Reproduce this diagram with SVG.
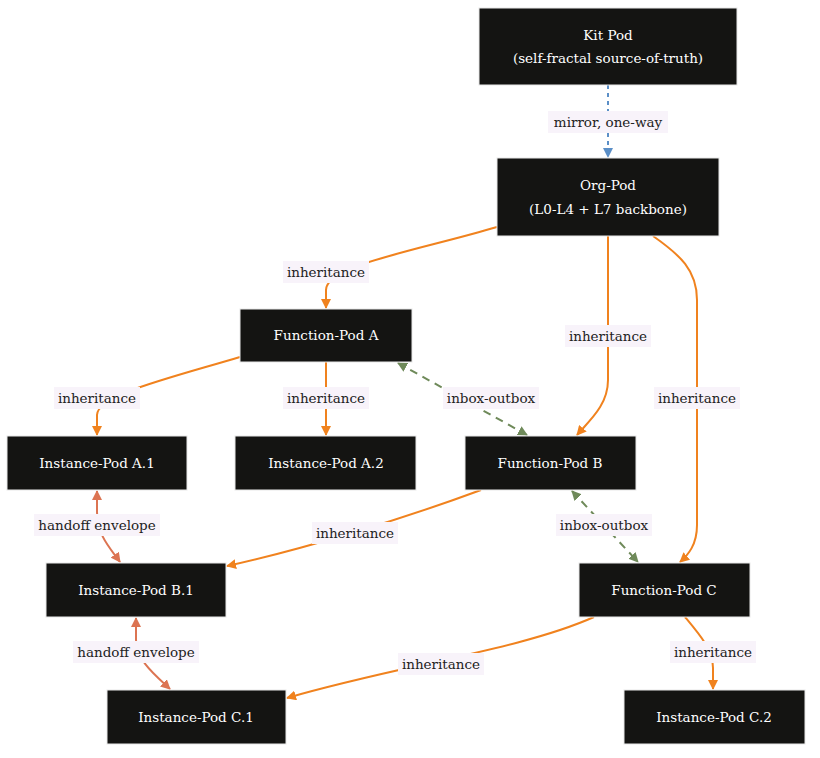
<svg xmlns="http://www.w3.org/2000/svg" width="820" height="758" viewBox="0 0 820 758">
<defs>
<style>
.n rect{fill:#141412;stroke:#e8e8e8;stroke-width:1}
.n text{fill:#fff;font-family:"DejaVu Serif","Liberation Serif",serif;font-size:13.5px;text-anchor:middle}
.e path{fill:none;stroke-width:2}
.inh{stroke:#f0821e}
.hand{stroke:#dc7452}
.io{stroke:#6f8a5a;stroke-dasharray:8 6}
.mir{stroke:#5b8fc7;stroke-dasharray:4 4;stroke-width:1.5}
.lb rect{fill:#f8f3fa}
.lb text{fill:#222;font-family:"DejaVu Serif","Liberation Serif",serif;font-size:13.5px;text-anchor:middle}
</style>
<marker id="ao" viewBox="0 0 10 10" refX="9" refY="5" markerWidth="5" markerHeight="5" orient="auto-start-reverse"><path d="M0,0L10,5L0,10z" fill="#f0821e"/></marker>
<marker id="ah" viewBox="0 0 10 10" refX="9" refY="5" markerWidth="5" markerHeight="5" orient="auto-start-reverse"><path d="M0,0L10,5L0,10z" fill="#dc7452"/></marker>
<marker id="ag" viewBox="0 0 10 10" refX="9" refY="5" markerWidth="5" markerHeight="5" orient="auto-start-reverse"><path d="M0,0L10,5L0,10z" fill="#6f8a5a"/></marker>
<marker id="ab" viewBox="0 0 10 10" refX="9" refY="5" markerWidth="5" markerHeight="5" orient="auto-start-reverse"><path d="M0,0L10,5L0,10z" fill="#5b8fc7"/></marker>
</defs>
<rect width="820" height="758" fill="#fff"/>
<g id="edges" class="e">
<path class="mir" d="M608,85L608,157" marker-end="url(#ab)"/>
<path class="inh" d="M497,227C420,250 326,265 326,290L326,308" marker-end="url(#ao)"/>
<path class="inh" d="M608,236L608,380C608,405 590,420 577,435" marker-end="url(#ao)"/>
<path class="inh" d="M653,236C680,255 697,270 697,300L697,525C697,545 688,555 680,562" marker-end="url(#ao)"/>
<path class="inh" d="M240,357C170,378 97,395 97,415L97,435" marker-end="url(#ao)"/>
<path class="inh" d="M326,362L326,435" marker-end="url(#ao)"/>
<path class="io" d="M398,363L527,435" marker-start="url(#ag)" marker-end="url(#ag)"/>
<path class="inh" d="M481,490C400,520 300,550 227,566" marker-end="url(#ao)"/>
<path class="hand" d="M97,491L97,512C97,535 110,548 120,562" marker-start="url(#ah)" marker-end="url(#ah)"/>
<path class="io" d="M572,491L638,562" marker-start="url(#ag)" marker-end="url(#ag)"/>
<path class="inh" d="M594,617C520,650 400,665 287,698" marker-end="url(#ao)"/>
<path class="inh" d="M685,617C700,635 713,650 713,668L713,689" marker-end="url(#ao)"/>
<path class="hand" d="M136,618L136,640C136,660 155,675 170,689" marker-start="url(#ah)" marker-end="url(#ah)"/>
</g>
<g id="labels" class="lb">
<rect x="548" y="111" width="120" height="22"/><text x="608" y="127">mirror, one-way</text>
<rect x="283" y="261" width="86" height="22"/><text x="326" y="277">inheritance</text>
<rect x="565" y="325" width="86" height="22"/><text x="608" y="341">inheritance</text>
<rect x="654" y="387" width="86" height="22"/><text x="697" y="403">inheritance</text>
<rect x="54" y="387" width="86" height="22"/><text x="97" y="403">inheritance</text>
<rect x="283" y="387" width="86" height="22"/><text x="326" y="403">inheritance</text>
<rect x="443" y="387" width="96" height="22"/><text x="491" y="403">inbox-outbox</text>
<rect x="34" y="514" width="126" height="22"/><text x="97" y="530">handoff envelope</text>
<rect x="312" y="522" width="86" height="22"/><text x="355" y="538">inheritance</text>
<rect x="556" y="514" width="96" height="22"/><text x="604" y="530">inbox-outbox</text>
<rect x="73" y="641" width="126" height="22"/><text x="136" y="657">handoff envelope</text>
<rect x="398" y="653" width="86" height="22"/><text x="441" y="669">inheritance</text>
<rect x="670" y="641" width="86" height="22"/><text x="713" y="657">inheritance</text>
</g>
<g id="kit" class="n"><rect x="479" y="8" width="258" height="77"/><text x="608" y="40">Kit Pod</text><text x="608" y="63">(self-fractal source-of-truth)</text></g>
<g id="org" class="n"><rect x="497" y="158" width="222" height="78"/><text x="608" y="190">Org-Pod</text><text x="608" y="214">(L0-L4 + L7 backbone)</text></g>
<g id="fa" class="n"><rect x="240" y="309" width="172" height="53"/><text x="326" y="340">Function-Pod A</text></g>
<g id="a1" class="n"><rect x="7" y="436" width="180" height="54"/><text x="97" y="468">Instance-Pod A.1</text></g>
<g id="a2" class="n"><rect x="235" y="436" width="181" height="54"/><text x="326" y="468">Instance-Pod A.2</text></g>
<g id="fb" class="n"><rect x="465" y="436" width="171" height="54"/><text x="550" y="468">Function-Pod B</text></g>
<g id="b1" class="n"><rect x="46" y="563" width="180" height="54"/><text x="136" y="595">Instance-Pod B.1</text></g>
<g id="fc" class="n"><rect x="579" y="563" width="171" height="54"/><text x="664" y="595">Function-Pod C</text></g>
<g id="c1" class="n"><rect x="107" y="690" width="179" height="54"/><text x="196" y="722">Instance-Pod C.1</text></g>
<g id="c2" class="n"><rect x="624" y="690" width="181" height="54"/><text x="714" y="722">Instance-Pod C.2</text></g>
</svg>
